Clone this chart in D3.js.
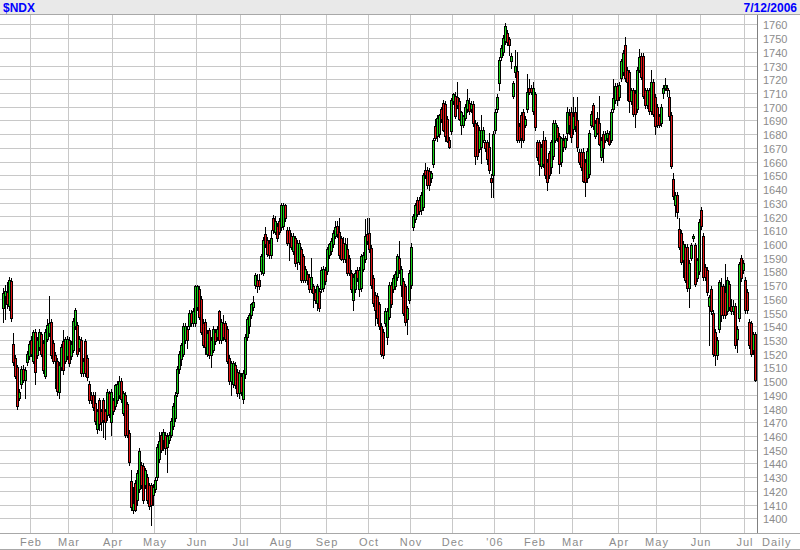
<!DOCTYPE html>
<html><head><meta charset="utf-8">
<script src="https://cdn.jsdelivr.net/npm/d3@7"></script>
<style>body{margin:0;background:#fff}svg{display:block}</style>
</head><body><svg id="c" width="800" height="550"></svg>
<script>
const symbol = "$NDX";
const lastDate = "7/12/2006";
const periodLabel = "Daily";

// Daily candles, 12 Jan 2005 .. 12 Jul 2006 (one row per month)
const open = [
1553,1562,1565,1555,1573,1527,1517,1510,1488,1498,1509,1501,1514,
1518,1530,1515,1536,1519,1525,1534,1528,1504,1531,1535,1543,1528,1519,1515,1492,1510,1529,1515,
1518,1530,1518,1523,1540,1541,1524,1530,1506,1529,1517,1498,1490,1490,1484,1465,1486,1478,1486,1478,1475,1491,
1470,1486,1482,1486,1490,1500,1477,1490,1483,1462,1427,1406,1426,1413,1421,1439,1438,1424,1430,1424,1424,
1417,1421,1430,1443,1461,1457,1461,1452,1457,1461,1467,1473,1491,1509,1516,1520,1530,1538,1540,1550,1542,
1542,1554,1567,1560,1542,1543,1520,1537,1519,1523,1536,1532,1551,1530,1542,1542,1538,1517,1500,1498,1512,1507,
1491,1504,1487,1505,1532,1540,1548,1554,1570,1574,1574,1580,1579,1607,1603,1601,1592,1619,1609,1613,
1617,1612,1613,1628,1610,1610,1606,1595,1604,1587,1587,1596,1591,1574,1578,1576,1567,1569,1565,1557,1566,1567,1568,
1581,1580,1592,1595,1600,1606,1613,1609,1604,1601,1589,1596,1590,1579,1559,1567,1581,1567,1568,1582,1589,
1607,1608,1597,1575,1563,1562,1556,1540,1536,1542,1532,1547,1570,1567,1569,1576,1590,1570,1573,1569,1545,
1559,1570,1612,1618,1632,1632,1625,1627,1654,1654,1653,1648,1658,1686,1679,1680,1698,1703,1702,1691,1676,
1682,1704,1708,1707,1704,1687,1687,1692,1698,1703,1698,1702,1688,1687,1669,1671,1676,1674,1674,1671,1648,
1650,1683,1698,1717,1736,1740,1748,1754,1749,1733,1708,1725,1726,1686,1694,1696,1687,1698,1714,1714,
1697,1709,1674,1674,1657,1676,1676,1660,1666,1656,1664,1676,1685,1679,1660,1676,1671,1681,1694,
1696,1684,1696,1690,1667,1667,1667,1660,1648,1651,1687,1701,1679,1692,1688,1663,1680,1676,1677,1680,1676,1698,1705,
1715,1707,1721,1725,1745,1727,1725,1704,1712,1710,1698,1727,1737,1737,1712,1701,1712,1697,1718,
1707,1700,1693,1688,1710,1714,1714,1707,1694,1647,1628,1636,1611,1608,1588,1598,1598,1568,1590,1604,1599,1575,
1580,1625,1606,1583,1581,1555,1567,1550,1536,1519,1538,1569,1569,1565,1551,1571,1555,1551,1555,1531,1546,1590,
1581,1574,1565,1543,1542,1523,1534];
const high = [
1568,1570,1572,1576,1575,1535,1519,1512,1494,1511,1512,1510,1522,
1529,1533,1537,1538,1532,1538,1536,1530,1538,1545,1562,1545,1530,1521,1517,1514,1527,1537,1532,
1533,1532,1529,1546,1553,1543,1533,1532,1517,1531,1519,1500,1492,1492,1492,1480,1488,1480,1488,1480,1494,1493,
1494,1488,1498,1500,1504,1502,1493,1492,1485,1464,1435,1423,1428,1435,1451,1441,1440,1437,1432,1426,1426,
1425,1430,1454,1463,1463,1465,1463,1462,1463,1473,1484,1492,1511,1522,1528,1542,1542,1540,1552,1552,1553,
1570,1570,1569,1562,1545,1545,1537,1539,1532,1540,1538,1540,1552,1545,1548,1544,1540,1519,1515,1515,1514,1509,
1508,1506,1508,1534,1547,1550,1557,1562,1579,1578,1578,1593,1605,1612,1605,1603,1610,1621,1620,1615,
1619,1630,1630,1629,1612,1612,1608,1608,1606,1603,1603,1598,1593,1584,1580,1578,1590,1571,1567,1571,1568,1583,1584,
1583,1598,1601,1604,1610,1617,1617,1619,1606,1605,1604,1604,1592,1581,1578,1581,1583,1583,1593,1594,1618,
1619,1619,1599,1577,1565,1564,1558,1542,1538,1553,1553,1572,1572,1577,1580,1593,1602,1584,1575,1571,1555,
1581,1601,1622,1630,1634,1634,1638,1652,1659,1656,1655,1653,1677,1691,1694,1695,1700,1705,1704,1693,1678,
1706,1710,1711,1718,1706,1697,1694,1702,1713,1706,1704,1704,1690,1689,1685,1694,1685,1676,1676,1681,1651,
1682,1698,1709,1736,1745,1752,1761,1756,1751,1739,1719,1741,1740,1688,1696,1698,1693,1724,1720,1716,
1718,1711,1676,1676,1673,1682,1678,1662,1668,1676,1690,1690,1687,1681,1678,1680,1679,1700,1698,
1700,1707,1700,1707,1669,1669,1670,1662,1670,1683,1697,1703,1690,1696,1708,1678,1682,1682,1683,1682,1698,1720,1717,
1717,1718,1735,1741,1751,1729,1727,1714,1714,1712,1729,1742,1739,1739,1714,1714,1714,1727,1720,
1709,1702,1695,1702,1716,1721,1716,1712,1696,1652,1638,1638,1619,1610,1602,1600,1600,1588,1601,1607,1601,1590,
1618,1627,1608,1585,1583,1563,1569,1552,1538,1532,1574,1575,1571,1585,1576,1573,1560,1559,1557,1540,1587,1592,
1588,1576,1567,1545,1544,1536,1536];
const low = [
1543,1545,1553,1552,1544,1512,1502,1480,1486,1495,1499,1488,1512,
1516,1518,1513,1498,1517,1523,1518,1506,1502,1529,1533,1517,1513,1495,1490,1488,1508,1505,1513,
1516,1511,1516,1521,1538,1518,1522,1504,1504,1504,1501,1484,1484,1479,1469,1462,1464,1464,1459,1458,1472,1474,
1461,1476,1480,1484,1488,1485,1475,1459,1459,1439,1406,1404,1405,1410,1419,1422,1411,1422,1411,1407,1395,
1410,1419,1428,1441,1448,1450,1447,1434,1455,1459,1465,1471,1489,1506,1512,1518,1528,1524,1538,1540,1540,
1540,1552,1545,1534,1525,1520,1518,1517,1510,1521,1527,1530,1528,1528,1530,1529,1513,1498,1490,1496,1495,1489,
1488,1490,1484,1502,1530,1535,1546,1552,1568,1565,1567,1578,1577,1598,1591,1590,1590,1608,1607,1602,
1607,1610,1611,1617,1599,1588,1596,1593,1584,1582,1585,1572,1572,1572,1571,1565,1565,1554,1557,1552,1551,1565,1566,
1571,1578,1590,1593,1598,1604,1605,1590,1588,1587,1587,1577,1577,1565,1552,1565,1573,1562,1566,1580,1587,
1600,1594,1568,1555,1541,1542,1538,1518,1517,1540,1527,1545,1554,1565,1567,1574,1579,1562,1548,1541,1534,
1557,1568,1610,1616,1620,1622,1622,1625,1648,1641,1639,1645,1656,1676,1675,1678,1689,1682,1675,1674,1670,
1680,1702,1692,1699,1690,1680,1685,1690,1696,1695,1696,1686,1658,1662,1667,1659,1674,1668,1658,1652,1634,
1634,1681,1696,1712,1734,1738,1746,1745,1738,1728,1706,1722,1674,1674,1671,1674,1685,1696,1709,1709,
1695,1683,1661,1650,1655,1656,1648,1639,1648,1652,1662,1674,1675,1652,1657,1668,1669,1676,1680,
1674,1680,1682,1668,1658,1654,1645,1635,1645,1649,1685,1684,1677,1680,1672,1661,1660,1674,1675,1672,1674,1696,1703,
1701,1705,1719,1723,1719,1705,1696,1702,1693,1685,1696,1725,1720,1706,1699,1699,1695,1695,1693,
1680,1685,1685,1686,1706,1712,1708,1690,1655,1633,1620,1619,1596,1585,1576,1572,1566,1554,1588,1602,1569,1573,
1578,1611,1574,1574,1563,1526,1549,1518,1512,1516,1536,1544,1546,1546,1549,1552,1549,1549,1524,1521,1544,1573,
1579,1550,1550,1524,1518,1520,1500];
const close = [
1564,1566,1556,1574,1546,1514,1504,1482,1492,1509,1501,1508,1520,
1527,1520,1536,1507,1530,1536,1520,1508,1536,1541,1542,1519,1515,1515,1493,1512,1525,1508,1531,
1531,1513,1527,1544,1552,1520,1531,1506,1515,1506,1503,1486,1486,1481,1471,1478,1469,1470,1472,1470,1492,1476,
1492,1478,1497,1498,1500,1487,1491,1461,1461,1441,1408,1411,1406,1433,1449,1424,1413,1435,1413,1409,1410,
1423,1428,1452,1456,1450,1463,1451,1460,1461,1471,1482,1490,1509,1520,1526,1540,1540,1530,1550,1542,1551,
1569,1569,1547,1536,1526,1525,1535,1519,1530,1538,1529,1538,1530,1543,1532,1531,1515,1500,1513,1513,1497,1491,
1506,1492,1506,1532,1545,1548,1556,1558,1577,1569,1569,1591,1603,1600,1593,1592,1604,1610,1617,1604,
1609,1628,1628,1619,1601,1601,1598,1606,1586,1601,1601,1574,1574,1582,1574,1567,1576,1564,1559,1569,1553,1581,1582,
1573,1596,1600,1602,1608,1612,1607,1592,1589,1589,1600,1579,1579,1567,1576,1579,1575,1581,1591,1592,1606,
1602,1596,1570,1557,1552,1546,1540,1520,1519,1551,1551,1570,1556,1575,1578,1591,1581,1582,1550,1543,1553,
1579,1598,1620,1628,1622,1624,1636,1650,1650,1643,1643,1652,1676,1677,1692,1694,1691,1683,1679,1675,1671,
1705,1709,1693,1701,1691,1696,1693,1700,1705,1697,1702,1688,1664,1664,1683,1683,1683,1670,1662,1654,1645,
1680,1696,1707,1734,1743,1750,1759,1747,1745,1737,1717,1730,1676,1676,1677,1676,1691,1711,1711,1711,
1714,1685,1663,1658,1671,1658,1650,1645,1650,1674,1688,1688,1677,1658,1677,1671,1677,1696,1687,
1678,1693,1686,1671,1660,1656,1646,1645,1668,1681,1695,1686,1688,1681,1673,1676,1670,1680,1681,1673,1696,1706,1715,
1705,1716,1733,1739,1721,1718,1704,1712,1695,1695,1727,1736,1722,1708,1701,1712,1697,1718,1695,
1686,1687,1687,1700,1714,1716,1712,1693,1657,1635,1636,1623,1598,1587,1600,1574,1568,1586,1599,1606,1571,1588,
1616,1613,1576,1576,1565,1561,1551,1520,1519,1530,1572,1548,1548,1548,1574,1554,1551,1555,1526,1538,1585,1575,
1586,1552,1552,1526,1520,1534,1501];

// month boundaries (bar index of first trading day) and their labels
const monthLabels = ["Feb","Mar","Apr","May","Jun","Jul","Aug","Sep","Oct","Nov","Dec","'06","Feb","Mar","Apr","May","Jun","Jul"];
const monthStart  = [13,32,54,75,96,118,138,161,182,203,224,245,265,284,307,326,348,370];
const priceTicks = [1400,1410,1420,1430,1440,1450,1460,1470,1480,1490,1500,1510,1520,1530,1540,1550,1560,1570,1580,1590,1600,1610,1620,1630,1640,1650,1660,1670,1680,1690,1700,1710,1720,1730,1740,1750,1760];

const W = 800, H = 550;
const plotL = 0, plotR = 757, plotT = 15, plotB = 533;
const svg = d3.select("#c").attr("shape-rendering","crispEdges");
const font = "'Liberation Sans', Arial, sans-serif";

const n = close.length;
const x = d3.scaleLinear().domain([0, n - 1]).range([3, 755]);
const y = d3.scaleLinear().domain([1400, 1760]).range([518.3, 24.4]);

svg.append("rect").attr("width", W).attr("height", H).attr("fill", "#fff");
// header
svg.append("rect").attr("x",0).attr("y",0).attr("width",W).attr("height",plotT).attr("fill","#e9e9e9");
svg.append("line").attr("x1",0).attr("x2",W).attr("y1",plotT-0.5).attr("y2",plotT-0.5).attr("stroke","#a8a8a8");
svg.append("text").attr("x",3).attr("y",12).text(symbol)
  .attr("font-family",font).attr("font-weight","bold").attr("font-size",12).attr("fill","#0000ff");
svg.append("text").attr("x",797).attr("y",12).attr("text-anchor","end").text(lastDate)
  .attr("font-family",font).attr("font-weight","bold").attr("font-size",12).attr("fill","#0000ff");

// grid
const grid = svg.append("g").attr("stroke","#c8c8c8");
grid.selectAll("line.h").data(priceTicks).join("line")
  .attr("x1",plotL).attr("x2",plotR).attr("y1",d=>Math.round(y(d))+0.5).attr("y2",d=>Math.round(y(d))+0.5);
grid.selectAll("line.v").data(monthStart).join("line")
  .attr("y1",plotT).attr("y2",plotB).attr("x1",d=>Math.round(x(d))+1.5).attr("x2",d=>Math.round(x(d))+1.5);

// axes
const yAxis = d3.axisRight(y).tickValues(priceTicks).tickSize(0).tickPadding(6).tickFormat(d3.format("d"));
const gy = svg.append("g").attr("transform",`translate(${plotR},1)`).call(yAxis);
gy.select(".domain").remove();
gy.selectAll("text").attr("font-family",font).attr("font-size",11).attr("fill","#8c8c8c");

const xAxis = d3.axisBottom(x).tickValues(monthStart).tickSize(0).tickPadding(5)
  .tickFormat((d,i)=>monthLabels[i]);
const gx = svg.append("g").attr("transform",`translate(1.5,${plotB})`).call(xAxis);
gx.select(".domain").remove();
gx.selectAll("text").attr("font-family",font).attr("font-size",11).attr("fill","#8c8c8c").attr("letter-spacing","1px");
svg.append("text").attr("x",762).attr("y",546).text(periodLabel)
  .attr("font-family",font).attr("font-size",11).attr("fill","#8c8c8c").attr("letter-spacing","1px");

// frame
svg.append("line").attr("x1",plotR+0.5).attr("x2",plotR+0.5).attr("y1",plotT).attr("y2",plotB).attr("stroke","#808080");
svg.append("line").attr("x1",0).attr("x2",W).attr("y1",plotB+0.5).attr("y2",plotB+0.5).attr("stroke","#a8a8a8");
svg.append("line").attr("x1",0).attr("x2",W).attr("y1",H-0.5).attr("y2",H-0.5).attr("stroke","#a8a8a8");

// candles
const idx = d3.range(n);
const cg = svg.append("g");
idx.forEach(i => {
  const cx = Math.round(x(i));
  const g = cg.append("g");
  g.append("line").attr("x1",cx+0.5).attr("x2",cx+0.5)
    .attr("y1",Math.round(y(high[i]))).attr("y2",Math.round(y(low[i]))+1).attr("stroke","#000");
  const top = Math.round(y(Math.max(open[i],close[i])));
  const bot = Math.round(y(Math.min(open[i],close[i])));
  g.append("rect").attr("x",cx-0.5).attr("width",2)
    .attr("y",top+0.5).attr("height",Math.max(1,bot-top))
    .attr("fill", close[i] >= open[i] ? "#19d219" : "#e01414").attr("stroke","#000");
});
</script></body></html>
